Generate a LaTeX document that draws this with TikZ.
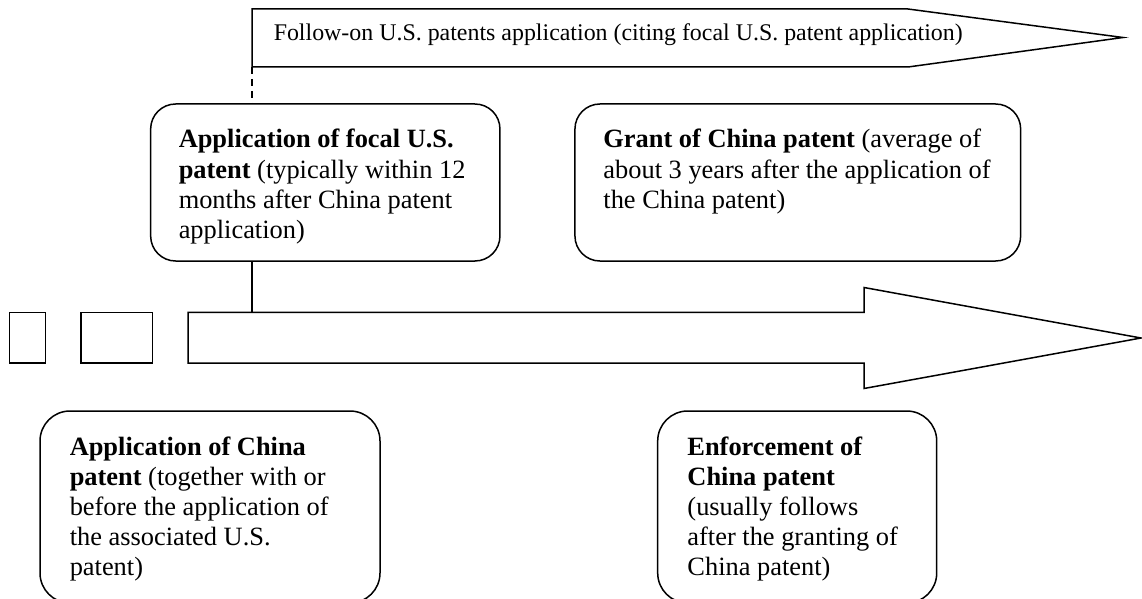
\documentclass[tikz,border=0pt]{standalone}
\usepackage{fontspec}
\setmainfont{Liberation Serif}
\begin{document}
\begin{tikzpicture}[x=1pt,y=-1pt,line width=1.5pt,line join=miter,
  roundbox/.style={draw,rounded corners=#1,inner sep=0pt,line width=1.5pt},
  plainbox/.style={draw,inner sep=0pt,line width=1.5pt},
  boxtext/.style={anchor=north west,inner sep=0pt,align=left,font=\fontsize{26.4}{30.2}\selectfont},
  toptext/.style={anchor=base west,inner sep=0pt,font=\fontsize{23.9}{28}\selectfont},
  dashline/.style={line width=1.5pt,dash pattern=on 7pt off 5pt}]
\useasboundingbox (0,0) rectangle (1142,599);

% top follow-on arrow
\draw (252,9) -- (908,9) -- (1123,37.5) -- (908,67) -- (252,67) -- cycle;
\coordinate (followbot) at (252,67);
\node[toptext] (follow) at (273,41) {Follow-on U.S. patents application (citing focal U.S. patent application)};

% big timeline arrow
\draw (188,312.3) -- (864,312.3) -- (864,287.5) -- (1141,338) -- (864,388.5) -- (864,363) -- (188,363) -- cycle;
\coordinate (linkpt) at (252,312.3);

% small rectangles
\node[plainbox,minimum width=36pt,minimum height=50.7pt] (r1) at (27.4,337.6) {};
\node[plainbox,minimum width=71.3pt,minimum height=50.7pt] (r2) at (116.7,337.6) {};

% boxes
\node[roundbox=25pt,minimum width=349.3pt,minimum height=157pt] (usapp) at (325.3,182.5) {};
\node[roundbox=25pt,minimum width=445.7pt,minimum height=157pt] (grant) at (797.8,182.5) {};
\node[roundbox=30pt,minimum width=340pt,minimum height=192pt] (cnapp) at (210,507) {};
\node[roundbox=30pt,minimum width=279pt,minimum height=192pt] (enforce) at (797.2,507) {};

% texts
\node[boxtext] (t1) at (178,128.5) {\textbf{Application of focal U.S.}\\\textbf{patent} (typically within 12\\months after China patent\\application)};
\node[boxtext] (t2) at (602.7,128.5) {\textbf{Grant of China patent} (average of\\about 3 years after the application of\\the China patent)};
\node[boxtext] (t3) at (69,435.8) {\textbf{Application of China}\\\textbf{patent} (together with or\\before the application of\\the associated U.S.\\patent)};
\node[boxtext] (t4) at (686.7,435.8) {\textbf{Enforcement of}\\\textbf{China patent}\\(usually follows\\after the granting of\\China patent)};

% connectors
\draw[dashline] (followbot) -- (followbot |- usapp.north);
\draw (linkpt |- usapp.south) -- (linkpt);
\end{tikzpicture}
\end{document}
